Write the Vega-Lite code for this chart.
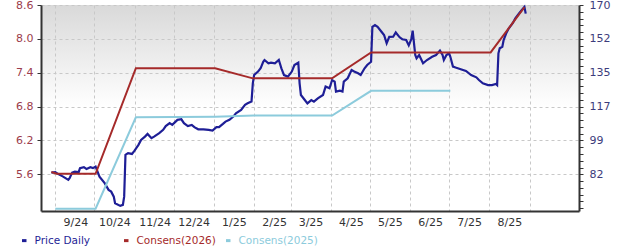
{
  "$schema": "https://vega.github.io/schema/vega-lite/v6.json",
  "width": 538,
  "height": 206,
  "autosize": {"type": "none"},
  "padding": {"left": 41, "top": 5, "right": 41, "bottom": 41},
  "background": "#ffffff",
  "config": {
    "font": "DejaVu Sans",
    "view": {
      "stroke": null,
      "fill": {"gradient": "linear", "x1": 0, "y1": 0, "x2": 0, "y2": 1,
        "stops": [{"offset": 0, "color": "#d9d9d9"}, {"offset": 0.5, "color": "#ffffff"}, {"offset": 1, "color": "#ffffff"}]}
    }
  },
  "datasets": {
    "price": [
      {"date": "2024-08-29", "price": 82.9},
      {"date": "2024-09-01", "price": 83.1},
      {"date": "2024-09-03", "price": 82.2},
      {"date": "2024-09-07", "price": 80.8},
      {"date": "2024-09-11", "price": 79.1},
      {"date": "2024-09-12", "price": 80.0},
      {"date": "2024-09-14", "price": 82.9},
      {"date": "2024-09-16", "price": 83.4},
      {"date": "2024-09-19", "price": 83.1},
      {"date": "2024-09-20", "price": 85.2},
      {"date": "2024-09-23", "price": 85.7},
      {"date": "2024-09-25", "price": 84.8},
      {"date": "2024-09-28", "price": 85.7},
      {"date": "2024-09-30", "price": 85.2},
      {"date": "2024-10-02", "price": 86.0},
      {"date": "2024-10-03", "price": 84.3},
      {"date": "2024-10-05", "price": 80.8},
      {"date": "2024-10-09", "price": 77.4},
      {"date": "2024-10-12", "price": 73.9},
      {"date": "2024-10-14", "price": 73.0},
      {"date": "2024-10-16", "price": 70.4},
      {"date": "2024-10-17", "price": 67.0},
      {"date": "2024-10-21", "price": 65.6},
      {"date": "2024-10-23", "price": 66.1},
      {"date": "2024-10-24", "price": 70.4},
      {"date": "2024-10-25", "price": 92.1},
      {"date": "2024-10-27", "price": 93.0},
      {"date": "2024-10-30", "price": 92.6},
      {"date": "2024-11-01", "price": 94.3},
      {"date": "2024-11-04", "price": 97.3},
      {"date": "2024-11-06", "price": 99.9},
      {"date": "2024-11-09", "price": 101.6},
      {"date": "2024-11-11", "price": 103.0},
      {"date": "2024-11-14", "price": 100.8},
      {"date": "2024-11-16", "price": 101.6},
      {"date": "2024-11-20", "price": 103.4},
      {"date": "2024-11-23", "price": 105.1},
      {"date": "2024-11-25", "price": 107.1},
      {"date": "2024-11-28", "price": 108.6},
      {"date": "2024-11-30", "price": 107.7},
      {"date": "2024-12-04", "price": 110.3},
      {"date": "2024-12-07", "price": 110.6},
      {"date": "2024-12-09", "price": 108.6},
      {"date": "2024-12-12", "price": 107.1},
      {"date": "2024-12-15", "price": 107.7},
      {"date": "2024-12-17", "price": 106.5},
      {"date": "2024-12-20", "price": 105.4},
      {"date": "2024-12-24", "price": 105.4},
      {"date": "2024-12-28", "price": 105.1},
      {"date": "2024-12-31", "price": 104.7},
      {"date": "2025-01-03", "price": 106.5},
      {"date": "2025-01-05", "price": 106.5},
      {"date": "2025-01-08", "price": 108.2},
      {"date": "2025-01-10", "price": 109.4},
      {"date": "2025-01-13", "price": 110.3},
      {"date": "2025-01-16", "price": 112.0},
      {"date": "2025-01-18", "price": 113.7},
      {"date": "2025-01-22", "price": 115.5},
      {"date": "2025-01-25", "price": 118.1},
      {"date": "2025-01-27", "price": 118.9},
      {"date": "2025-01-30", "price": 119.8},
      {"date": "2025-01-31", "price": 129.3},
      {"date": "2025-02-01", "price": 133.6},
      {"date": "2025-02-04", "price": 135.4},
      {"date": "2025-02-06", "price": 137.1},
      {"date": "2025-02-08", "price": 140.5},
      {"date": "2025-02-09", "price": 141.4},
      {"date": "2025-02-12", "price": 139.7},
      {"date": "2025-02-14", "price": 140.0},
      {"date": "2025-02-17", "price": 139.7},
      {"date": "2025-02-20", "price": 141.4},
      {"date": "2025-02-22", "price": 137.1},
      {"date": "2025-02-24", "price": 133.6},
      {"date": "2025-02-27", "price": 132.8},
      {"date": "2025-03-02", "price": 135.4},
      {"date": "2025-03-04", "price": 138.8},
      {"date": "2025-03-07", "price": 140.0},
      {"date": "2025-03-08", "price": 129.3},
      {"date": "2025-03-09", "price": 123.2},
      {"date": "2025-03-12", "price": 120.6},
      {"date": "2025-03-14", "price": 118.9},
      {"date": "2025-03-17", "price": 120.6},
      {"date": "2025-03-19", "price": 119.8},
      {"date": "2025-03-22", "price": 121.5},
      {"date": "2025-03-26", "price": 123.2},
      {"date": "2025-03-28", "price": 127.6},
      {"date": "2025-03-31", "price": 126.7},
      {"date": "2025-04-02", "price": 131.0},
      {"date": "2025-04-04", "price": 130.2},
      {"date": "2025-04-05", "price": 125.0},
      {"date": "2025-04-08", "price": 125.5},
      {"date": "2025-04-10", "price": 125.0},
      {"date": "2025-04-11", "price": 130.2},
      {"date": "2025-04-14", "price": 131.9},
      {"date": "2025-04-17", "price": 136.2},
      {"date": "2025-04-19", "price": 135.4},
      {"date": "2025-04-22", "price": 134.5},
      {"date": "2025-04-24", "price": 133.6},
      {"date": "2025-04-27", "price": 137.1},
      {"date": "2025-04-29", "price": 138.8},
      {"date": "2025-05-02", "price": 140.5},
      {"date": "2025-05-03", "price": 158.7},
      {"date": "2025-05-05", "price": 159.6},
      {"date": "2025-05-07", "price": 158.7},
      {"date": "2025-05-10", "price": 156.1},
      {"date": "2025-05-12", "price": 154.4},
      {"date": "2025-05-14", "price": 150.1},
      {"date": "2025-05-16", "price": 153.4},
      {"date": "2025-05-19", "price": 153.5},
      {"date": "2025-05-21", "price": 155.7},
      {"date": "2025-05-24", "price": 153.2},
      {"date": "2025-05-26", "price": 152.2},
      {"date": "2025-05-29", "price": 151.8},
      {"date": "2025-05-31", "price": 149.0},
      {"date": "2025-06-02", "price": 152.3},
      {"date": "2025-06-03", "price": 156.7},
      {"date": "2025-06-05", "price": 144.0},
      {"date": "2025-06-06", "price": 142.3},
      {"date": "2025-06-08", "price": 144.0},
      {"date": "2025-06-11", "price": 139.7},
      {"date": "2025-06-14", "price": 141.4},
      {"date": "2025-06-18", "price": 143.1},
      {"date": "2025-06-21", "price": 144.0},
      {"date": "2025-06-24", "price": 146.3},
      {"date": "2025-06-26", "price": 144.0},
      {"date": "2025-06-27", "price": 141.4},
      {"date": "2025-06-29", "price": 144.0},
      {"date": "2025-07-01", "price": 144.9},
      {"date": "2025-07-02", "price": 143.1},
      {"date": "2025-07-04", "price": 138.0},
      {"date": "2025-07-06", "price": 137.5},
      {"date": "2025-07-10", "price": 136.6},
      {"date": "2025-07-14", "price": 135.7},
      {"date": "2025-07-18", "price": 133.6},
      {"date": "2025-07-22", "price": 132.4},
      {"date": "2025-07-24", "price": 131.0},
      {"date": "2025-07-27", "price": 129.3},
      {"date": "2025-07-31", "price": 128.4},
      {"date": "2025-08-03", "price": 128.4},
      {"date": "2025-08-06", "price": 129.0},
      {"date": "2025-08-07", "price": 128.4},
      {"date": "2025-08-08", "price": 144.9},
      {"date": "2025-08-09", "price": 147.5},
      {"date": "2025-08-11", "price": 148.3},
      {"date": "2025-08-12", "price": 151.8},
      {"date": "2025-08-14", "price": 155.3},
      {"date": "2025-08-16", "price": 157.9},
      {"date": "2025-08-19", "price": 160.5},
      {"date": "2025-08-21", "price": 163.1},
      {"date": "2025-08-24", "price": 165.7},
      {"date": "2025-08-26", "price": 167.4},
      {"date": "2025-08-28", "price": 169.0},
      {"date": "2025-08-29", "price": 165.5}
    ],
    "cons": [
      {"series": "Consens(2026)", "date": "2024-08-29", "eps": 5.64},
      {"series": "Consens(2026)", "date": "2024-09-02", "eps": 5.61},
      {"series": "Consens(2026)", "date": "2024-10-02", "eps": 5.61},
      {"series": "Consens(2026)", "date": "2024-11-02", "eps": 7.48},
      {"series": "Consens(2026)", "date": "2025-01-02", "eps": 7.48},
      {"series": "Consens(2026)", "date": "2025-01-31", "eps": 7.30},
      {"series": "Consens(2026)", "date": "2025-04-02", "eps": 7.30},
      {"series": "Consens(2026)", "date": "2025-05-02", "eps": 7.76},
      {"series": "Consens(2026)", "date": "2025-08-02", "eps": 7.76},
      {"series": "Consens(2026)", "date": "2025-08-28", "eps": 8.56},
      {"series": "Consens(2025)", "date": "2024-09-01", "eps": 4.99},
      {"series": "Consens(2025)", "date": "2024-10-02", "eps": 4.99},
      {"series": "Consens(2025)", "date": "2024-11-02", "eps": 6.61},
      {"series": "Consens(2025)", "date": "2025-01-02", "eps": 6.62},
      {"series": "Consens(2025)", "date": "2025-02-01", "eps": 6.64},
      {"series": "Consens(2025)", "date": "2025-04-02", "eps": 6.64},
      {"series": "Consens(2025)", "date": "2025-05-02", "eps": 7.08},
      {"series": "Consens(2025)", "date": "2025-07-02", "eps": 7.08}
    ]
  },
  "layer": [
    {
      "data": {"name": "price"},
      "mark": {"type": "line", "strokeWidth": 2.2, "interpolate": "linear"},
      "encoding": {
        "x": {
          "field": "date", "type": "temporal",
          "scale": {"type": "utc", "domain": [{"year": 2024, "month": 8, "date": 21, "utc": true}, {"year": 2025, "month": 10, "date": 9, "utc": true}]},
          "axis": {
            "title": null,
            "values": [
              {"year": 2024, "month": 9, "date": 1, "utc": true},
              {"year": 2024, "month": 10, "date": 1, "utc": true},
              {"year": 2024, "month": 11, "date": 1, "utc": true},
              {"year": 2024, "month": 12, "date": 1, "utc": true},
              {"year": 2025, "month": 1, "date": 1, "utc": true},
              {"year": 2025, "month": 2, "date": 1, "utc": true},
              {"year": 2025, "month": 3, "date": 1, "utc": true},
              {"year": 2025, "month": 4, "date": 1, "utc": true},
              {"year": 2025, "month": 5, "date": 1, "utc": true},
              {"year": 2025, "month": 6, "date": 1, "utc": true},
              {"year": 2025, "month": 7, "date": 1, "utc": true},
              {"year": 2025, "month": 8, "date": 1, "utc": true},
              {"year": 2025, "month": 9, "date": 1, "utc": true}
            ],
            "format": "%-m/%y",
            "labelExpr": "utcyear(datum.value) == 2025 && utcmonth(datum.value) == 8 ? '' : datum.label",
            "labelOffset": 20,
            "labelFlush": false,
            "labelOverlap": false,
            "labelFont": "DejaVu Sans",
            "labelFontSize": 11,
            "labelColor": "#333333",
            "labelPadding": 5,
            "ticks": false,
            "domainColor": "#333333",
            "domainWidth": 2,
            "grid": true,
            "gridColor": "#c8c8c8",
            "gridDash": [3, 3],
            "gridWidth": 1
          }
        },
        "y": {
          "field": "price", "type": "quantitative",
          "scale": {"domain": [62.93, 170], "nice": false, "zero": false},
          "axis": {
            "orient": "right",
            "title": null,
            "values": [64.4, 67.92, 71.44, 74.96, 78.48, 82, 85.52, 89.04, 92.56, 96.08, 99.6, 103.12, 106.64, 110.16, 113.68, 117.2, 120.72, 124.24, 127.76, 131.28, 134.8, 138.32, 141.84, 145.36, 148.88, 152.4, 155.92, 159.44, 162.96, 166.48, 170],
            "labelExpr": "datum.value > 80 && abs((datum.value - 82) / 17.6 - round((datum.value - 82) / 17.6)) < 0.05 ? '' + floor(datum.value + 0.3) : ''",
            "labelOverlap": false,
            "labelFlush": false,
            "labelFont": "DejaVu Sans",
            "labelFontSize": 11,
            "labelColor": "#3c3c7c",
            "labelPadding": 6,
            "tickSize": 4,
            "tickColor": "#333333",
            "domainColor": "#333333",
            "domainWidth": 2,
            "grid": false
          }
        },
        "color": {"datum": "Price Daily", "type": "nominal"}
      }
    },
    {
      "data": {"name": "cons"},
      "mark": {"type": "line", "strokeWidth": 2},
      "encoding": {
        "x": {"field": "date", "type": "temporal"},
        "y": {
          "field": "eps", "type": "quantitative",
          "scale": {"domain": [4.95, 8.6], "nice": false, "zero": false},
          "axis": {
            "orient": "left",
            "title": null,
            "values": [5.6, 6.2, 6.8, 7.4, 8.0, 8.6],
            "format": ".1f",
            "labelFlush": false,
            "labelFont": "DejaVu Sans",
            "labelFontSize": 11,
            "labelColor": "#9c3c4c",
            "labelPadding": 4,
            "tickSize": 4,
            "tickColor": "#333333",
            "domainColor": "#333333",
            "domainWidth": 2,
            "grid": true,
            "gridColor": "#c8c8c8",
            "gridDash": [3, 3],
            "gridWidth": 1
          }
        },
        "color": {
          "field": "series", "type": "nominal",
          "scale": {"domain": ["Price Daily", "Consens(2026)", "Consens(2025)"], "range": ["#1e1e96", "#a52a2a", "#8ccbdc"]},
          "legend": {
            "title": null,
            "orient": "none",
            "legendX": -22,
            "legendY": 230,
            "direction": "horizontal",
            "columns": 3,
            "gridAlign": "all",
            "columnPadding": 4,
            "symbolType": "stroke",
            "symbolSize": 20,
            "symbolStrokeWidth": 3,
            "labelFont": "DejaVu Sans",
            "labelFontSize": 10.5,
            "labelOffset": 5,
            "encode": {"labels": {"update": {"fill": {"scale": "color", "field": "value"}}}}
          }
        }
      }
    }
  ],
  "resolve": {"scale": {"y": "independent"}}
}
